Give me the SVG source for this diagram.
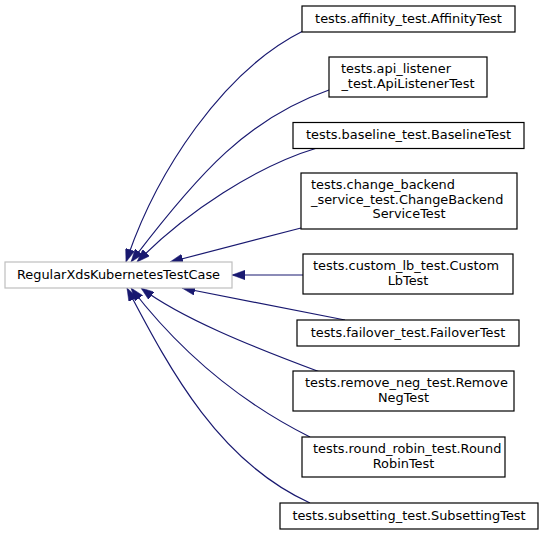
<svg xmlns="http://www.w3.org/2000/svg" width="543" height="535" viewBox="0 0 543 535">
<style>
  .bg { fill: #ffffff; }
  .node rect { fill: #ffffff; stroke: #000000; stroke-width: 1.2; }
  .node.main rect { stroke: #bfbfbf; }
  text { font-family: "DejaVu Sans", "Liberation Sans", sans-serif; font-size: 12.9px; fill: #000000; }
  .c { text-anchor: middle; }
  .l { text-anchor: start; }
  .edges path { fill: none; stroke: #191970; stroke-width: 1.2; marker-end: url(#arr); }
</style>
<defs>
  <marker id="arr" viewBox="0 0 13 9.4" refX="13" refY="4.7" markerUnits="userSpaceOnUse" markerWidth="13" markerHeight="9.4" orient="auto">
    <path d="M0,0 L13,4.7 L0,9.4 z" fill="#191970" stroke="#191970" stroke-width="0.5"/>
  </marker>
</defs>
<rect class="bg" x="0" y="0" width="543" height="535"/>

<g class="edges" id="edges">
  <path d="M303,31 C223,71 156,172 126,262"/>
  <path d="M329,90 C249,118 200,171 131,262"/>
  <path d="M317,148 C257,166 186,212 137,262"/>
  <path d="M301,228 L170,262"/>
  <path d="M303,275 L232,275"/>
  <path d="M345,320 L182,288"/>
  <path d="M320,372 C250,346 181,318 141,288"/>
  <path d="M310,437 C240,402 181,353 131,288"/>
  <path d="M310,503 C220,462 172,374 127,288"/>
</g>

<g class="node main" id="node-main">
  <rect x="5" y="262" width="227" height="26"/>
  <text class="c" x="118.5" y="278.5">RegularXdsKubernetesTestCase</text>
</g>

<g class="node" id="node-affinity">
  <rect x="302" y="6" width="213" height="26"/>
  <text class="c" x="408.5" y="22.5">tests.affinity_test.AffinityTest</text>
</g>

<g class="node" id="node-api-listener">
  <rect x="329" y="57" width="158" height="40"/>
  <text class="l" x="341" y="73">tests.api_listener</text>
  <text class="c" x="408" y="87.7">_test.ApiListenerTest</text>
</g>

<g class="node" id="node-baseline">
  <rect x="293" y="122.5" width="231" height="26"/>
  <text class="c" x="408.5" y="139">tests.baseline_test.BaselineTest</text>
</g>

<g class="node" id="node-change-backend">
  <rect x="301" y="173" width="216" height="56"/>
  <text class="l" x="311" y="189">tests.change_backend</text>
  <text class="l" x="311" y="203.7">_service_test.ChangeBackend</text>
  <text class="c" x="409" y="218.4">ServiceTest</text>
</g>

<g class="node" id="node-custom-lb">
  <rect x="303" y="254" width="210" height="40"/>
  <text class="l" x="313" y="270">tests.custom_lb_test.Custom</text>
  <text class="c" x="408" y="284.7">LbTest</text>
</g>

<g class="node" id="node-failover">
  <rect x="297" y="320" width="222" height="26"/>
  <text class="c" x="408" y="336.5">tests.failover_test.FailoverTest</text>
</g>

<g class="node" id="node-remove-neg">
  <rect x="293" y="371" width="221" height="40"/>
  <text class="l" x="305" y="387">tests.remove_neg_test.Remove</text>
  <text class="c" x="403.5" y="401.7">NegTest</text>
</g>

<g class="node" id="node-round-robin">
  <rect x="302" y="437" width="203" height="40"/>
  <text class="l" x="313" y="453">tests.round_robin_test.Round</text>
  <text class="c" x="403.5" y="467.7">RobinTest</text>
</g>

<g class="node" id="node-subsetting">
  <rect x="280" y="503" width="258" height="26"/>
  <text class="c" x="409" y="519.5">tests.subsetting_test.SubsettingTest</text>
</g>
</svg>
